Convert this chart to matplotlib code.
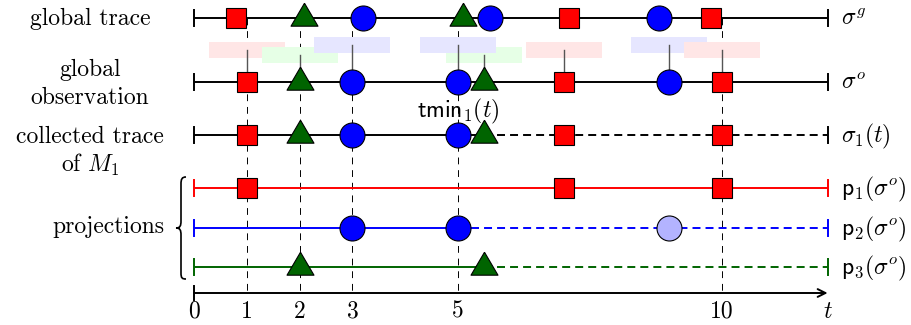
import matplotlib
matplotlib.use("Agg")
from matplotlib import pyplot as plt
from matplotlib.patches import Rectangle, PathPatch
from matplotlib.path import Path

plt.rcParams['font.family'] = 'cmr10'
plt.rcParams['mathtext.fontset'] = 'cm'
plt.rcParams['axes.unicode_minus'] = False

# data
t_end = 12
event_kinds = ['sq', 'tri', 'circ', 'tri', 'circ', 'sq', 'circ', 'sq']
global_times = [0.8, 2.08, 3.2, 5.1, 5.6, 7.1, 8.8, 9.8]
obs_times = [1, 2, 3, 5.5, 5, 7, 9, 10]
collected_kinds = ['sq', 'tri', 'circ', 'circ', 'tri', 'sq', 'sq']
collected_times = [1, 2, 3, 5, 5.5, 7, 10]
collected_solid_end = 5.5
tmin_time = 5
guide_times = [1, 2, 3, 5, 10]
tick_values = [0, 1, 2, 3, 5, 10]

proj_kinds = ['sq', 'circ', 'tri']
proj_times = [[1, 7, 10], [3, 5, 9], [2, 5.5]]
proj_solid_end = [12, 5, 5.5]
proj_faded = [[], [9], []]

left_labels = ['global trace', 'global', 'observation', 'collected trace', 'of $M_1$', 'projections']
right_labels = [r'$\sigma^g$', r'$\sigma^o$', r'$\sigma_1(t)$',
                r'$\mathsf{p}_1(\sigma^o)$', r'$\mathsf{p}_2(\sigma^o)$', r'$\mathsf{p}_3(\sigma^o)$']

# layout (pixels)
PX = 52.8          # pixels per time unit
X0 = 194           # pixel of t=0
W, H = 911, 325
y_glob, y_obs, y_coll = 18, 82, 135
y_proj = [188, 228, 267]
y_axis = 293
bar = 8
fs = 17

green = '#006400'
styles = {
    'sq': dict(marker='s', ms=15, mfc='red', color='red'),
    'circ': dict(marker='o', ms=18, mfc='blue', color='blue'),
    'tri': dict(marker=[(0, 15.3), (-13.5, -7.7), (13.5, -7.7), (0, 15.3)], ms=22, mfc=green, color=green),
}
fade = {'circ': '#b3b3ff', 'sq': '#ffb3b3', 'tri': '#b3d1b3'}
rect_style = {'sq': ('#ffe6e6', 50), 'tri': ('#e6ffe6', 55), 'circ': ('#e6e6ff', 45)}
rect_w = 1.44


def px(x):
    return (x - X0) / PX


fig = plt.figure(figsize=(W / 100, H / 100), dpi=100)
ax = fig.add_axes([0, 0, 1, 1])
ax.set_xlim(px(0), px(W))
ax.set_ylim(H, 0)
ax.axis('off')


def marker(t, y, kind, faded=False):
    st = styles[kind]
    ax.plot([t], [y], linestyle='none', marker=st['marker'], ms=st['ms'],
            mfc=fade[kind] if faded else st['mfc'], mec='black', mew=0.8, zorder=6)


def row(y, color, solid_end, lw=1.4):
    ax.plot([0, solid_end], [y, y], color=color, lw=lw, zorder=2, solid_capstyle='butt')
    if solid_end < t_end:
        ax.plot([solid_end, t_end], [y, y], color=color, lw=lw, zorder=2,
                linestyle=(0, (4.1, 2.6)))
    for t in (0, t_end):
        ax.plot([t, t], [y - bar, y + bar], color=color, lw=1.4, zorder=2)


# dashed guides
for t in guide_times:
    ax.plot([t, t], [y_glob, y_axis], color='black', lw=0.7, linestyle=(0, (7, 6)), zorder=1)

# global trace / observation
row(y_glob, 'black', t_end)
row(y_obs, 'black', t_end)
for k, tg, to in zip(event_kinds, global_times, obs_times):
    marker(tg, y_glob, k)
    marker(to, y_obs, k)
    fc, yc = rect_style[k]
    ax.add_patch(Rectangle((to - rect_w / 2, yc - 8), rect_w, 16, facecolor=fc,
                           edgecolor='none', zorder=3))
    ax.plot([to, to], [yc, y_obs], color='#555555', lw=1.0, zorder=4)

# collected trace of M1
row(y_coll, 'black', collected_solid_end)
for k, t in zip(collected_kinds, collected_times):
    marker(t, y_coll, k)

# projections
for i, (k, ts) in enumerate(zip(proj_kinds, proj_times)):
    c = styles[k]['color']
    row(y_proj[i], c, proj_solid_end[i])
    for t in ts:
        marker(t, y_proj[i], k, faded=t in proj_faded[i])

# time axis
ax.annotate('', xy=(t_end, y_axis), xytext=(0, y_axis),
            arrowprops=dict(arrowstyle='->', lw=1.4, color='black', mutation_scale=14,
                            shrinkA=0, shrinkB=0))
ax.plot([0, 0], [y_axis - 7, y_axis + 7], color='black', lw=1.4)
for v in tick_values:
    ax.text(v, 318, str(v), ha='center', va='baseline', fontsize=fs)
ax.text(t_end, 318, r'$t$', ha='center', va='baseline', fontsize=fs)

# labels
ax.text(px(90), 25, left_labels[0], ha='center', va='baseline', fontsize=fs)
ax.text(px(90), 76, left_labels[1], ha='center', va='baseline', fontsize=fs)
ax.text(px(90), 104, left_labels[2], ha='center', va='baseline', fontsize=fs)
ax.text(px(90), 143, left_labels[3], ha='center', va='baseline', fontsize=fs)
ax.text(px(90), 172, left_labels[4], ha='center', va='baseline', fontsize=fs)
ax.text(px(164), 233, left_labels[5], ha='right', va='baseline', fontsize=fs)
for y, lab in zip([y_glob, y_obs, y_coll] + y_proj, right_labels):
    ax.text(px(841), y + 7, lab, ha='left', va='baseline', fontsize=fs)
ax.text(tmin_time, 117, r'$\mathsf{tmin}_1(t)$', ha='center', va='baseline', fontsize=fs)

# brace
pts = [(186, 177), (182, 177), (181, 179), (181, 184), (181, 221),
       (181, 226), (180, 228), (176, 228),
       (180, 228), (181, 230), (181, 235), (181, 273),
       (181, 278), (182, 279), (186, 279)]
codes = [Path.MOVETO, Path.CURVE4, Path.CURVE4, Path.CURVE4, Path.LINETO,
         Path.CURVE4, Path.CURVE4, Path.CURVE4,
         Path.CURVE4, Path.CURVE4, Path.CURVE4, Path.LINETO,
         Path.CURVE4, Path.CURVE4, Path.CURVE4]
brace = Path([(px(x), y) for x, y in pts], codes)
ax.add_patch(PathPatch(brace, facecolor='none', edgecolor='black', lw=1.2))

fig.savefig('out.png', dpi=100)
